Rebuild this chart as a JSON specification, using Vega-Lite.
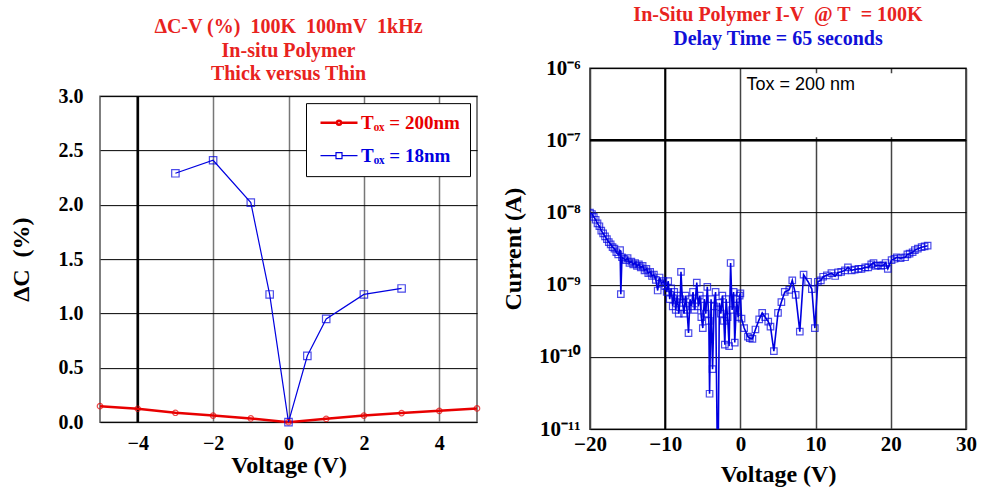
{
  "$schema": "https://vega.github.io/schema/vega-lite/v6.json",
  "padding": {"left": 8, "top": 4, "right": 0, "bottom": 0},
  "spacing": 17,
  "center": true,
  "resolve": {"scale": {"color": "independent"}, "legend": {"color": "independent"}},
  "config": {
    "font": "Liberation Serif",
    "axis": {"labelFont": "Liberation Serif", "titleFont": "Liberation Serif", "labelFontWeight": "bold", "titleFontWeight": "bold", "labelColor": "black", "titleColor": "black", "ticks": false, "domain": false, "labelFlush": false, "labelOverlap": false},
    "legend": {"labelFont": "Liberation Serif"}
  },
  "hconcat": [
    {
      "width": 377,
      "height": 326,
      "view": {"stroke": "#555", "strokeWidth": 1.5},
      "title": {"text": ["ΔC-V (%)\u00a0 100K\u00a0 100mV\u00a0 1kHz", "In-situ Polymer", "Thick versus Thin"], "color": "#e8231e", "font": "Liberation Serif", "fontSize": 20, "fontWeight": "bold", "lineHeight": 23.5, "offset": 2, "frame": "group", "anchor": "middle"},
      "data": {"values": [
        {"v": -5, "dc": 0.147, "s": "200nm"},
        {"v": -4, "dc": 0.123, "s": "200nm"},
        {"v": -3, "dc": 0.086, "s": "200nm"},
        {"v": -2, "dc": 0.060, "s": "200nm"},
        {"v": -1, "dc": 0.034, "s": "200nm"},
        {"v": 0, "dc": 0.0, "s": "200nm"},
        {"v": 1, "dc": 0.030, "s": "200nm"},
        {"v": 2, "dc": 0.060, "s": "200nm"},
        {"v": 3, "dc": 0.083, "s": "200nm"},
        {"v": 4, "dc": 0.104, "s": "200nm"},
        {"v": 5, "dc": 0.126, "s": "200nm"},
        {"v": -3, "dc": 2.29, "s": "18nm"},
        {"v": -2, "dc": 2.41, "s": "18nm"},
        {"v": -1, "dc": 2.02, "s": "18nm"},
        {"v": -0.5, "dc": 1.175, "s": "18nm"},
        {"v": 0, "dc": 0.0, "s": "18nm"},
        {"v": 0.5, "dc": 0.61, "s": "18nm"},
        {"v": 1, "dc": 0.95, "s": "18nm"},
        {"v": 2, "dc": 1.175, "s": "18nm"},
        {"v": 3, "dc": 1.23, "s": "18nm"}
      ]},
      "layer": [
        {
          "data": {"values": [{"x": -4}]},
          "mark": {"type": "rule", "color": "black", "strokeWidth": 2.5},
          "encoding": {"x": {"field": "x", "type": "quantitative"}}
        },
        {
          "mark": {"type": "line"},
          "encoding": {
            "x": {"field": "v", "type": "quantitative", "scale": {"domain": [-5, 5], "nice": false},
              "axis": {"values": [-4, -2, 0, 2, 4], "grid": true, "gridColor": "#777", "gridWidth": 1.5, "labelFontSize": 20, "labelPadding": 11, "title": "Voltage (V)", "titleFontSize": 24, "titlePadding": 0}},
            "y": {"field": "dc", "type": "quantitative", "scale": {"domain": [0, 3], "nice": false},
              "axis": {"values": [0, 0.5, 1, 1.5, 2, 2.5, 3], "format": ".1f", "grid": true, "gridColor": "black", "gridWidth": 1, "labelFontSize": 20, "labelPadding": 17, "title": "ΔC\u00a0 (%)", "titleFontSize": 24, "titlePadding": 25}},
            "color": {"field": "s", "type": "nominal", "scale": {"domain": ["200nm", "18nm"], "range": ["#e80000", "#0000e0"]},
              "legend": {"title": null, "orient": "top-right", "offset": 7, "fillColor": "white", "strokeColor": "black", "padding": 10, "labelFontSize": 19, "labelFontWeight": "bold",
                "labelColor": {"expr": "datum.value == '200nm' ? '#e80000' : '#0000e0'"},
                "labelExpr": "datum.value == '200nm' ? 'Tₒₓ = 200nm' : 'Tₒₓ = 18nm'",
                "labelOffset": 26, "symbolSize": 100, "rowPadding": 13,
                "symbolType": {"expr": "datum.value == '200nm' ? 'M-1,0H2.3M3.1,0H6.4M2.3,0A0.4,0.4 0 1,1 3.1,0A0.4,0.4 0 1,1 2.3,0' : 'M-1,0H2.1M3.3,0H6.4M2.1,-0.6H3.3V0.6H2.1Z'"},
                "symbolStrokeWidth": {"expr": "datum.value == '200nm' ? 2.5 : 1.2"},
                "encode": {"symbols": {"update": {
                  "shape": {"signal": "datum.value == '200nm' ? 'M-1,0H2.3M3.1,0H6.4M2.3,0A0.4,0.4 0 1,1 3.1,0A0.4,0.4 0 1,1 2.3,0' : 'M-1,0H2.1M3.3,0H6.4M2.1,-0.6H3.3V0.6H2.1Z'"},
                  "strokeWidth": {"signal": "datum.value == '200nm' ? 2.5 : 1.2"}}}}}},
            "strokeWidth": {"field": "s", "type": "nominal", "scale": {"domain": ["200nm", "18nm"], "range": [2.5, 1.2]}, "legend": null}
          }
        },
        {
          "mark": {"type": "point", "filled": false, "strokeWidth": 1.2},
          "encoding": {
            "x": {"field": "v", "type": "quantitative"},
            "y": {"field": "dc", "type": "quantitative"},
            "color": {"field": "s", "type": "nominal"},
            "shape": {"field": "s", "type": "nominal", "scale": {"domain": ["200nm", "18nm"], "range": ["circle", "square"]}, "legend": null},
            "size": {"field": "s", "type": "nominal", "scale": {"domain": ["200nm", "18nm"], "range": [30, 55]}, "legend": null}
          }
        }
      ]
    },
    {
      "width": 376,
      "height": 361,
      "view": {"stroke": "#222", "strokeWidth": 1.5},
      "title": {"text": "In-Situ Polymer I-V\u00a0 @ T\u00a0 = 100K", "subtitle": "Delay Time = 65 seconds", "color": "#e8231e", "subtitleColor": "#1010d8", "font": "Liberation Serif", "subtitleFont": "Liberation Serif", "fontSize": 20, "subtitleFontSize": 20, "fontWeight": "bold", "subtitleFontWeight": "bold", "subtitlePadding": 4, "offset": 8, "frame": "group", "anchor": "middle"},
      "data": {"values": [
        {"v": -20.0, "i": 1.0e-8}, {"v": -19.75, "i": 9.55e-9}, {"v": -19.5, "i": 8.71e-9}, {"v": -19.25, "i": 7.94e-9},
        {"v": -19.0, "i": 7.08e-9}, {"v": -18.75, "i": 6.46e-9}, {"v": -18.5, "i": 5.62e-9}, {"v": -18.25, "i": 5.13e-9},
        {"v": -18.0, "i": 4.68e-9}, {"v": -17.75, "i": 4.27e-9}, {"v": -17.5, "i": 3.89e-9}, {"v": -17.25, "i": 3.63e-9},
        {"v": -17.0, "i": 3.31e-9}, {"v": -16.75, "i": 3.16e-9}, {"v": -16.5, "i": 2.82e-9}, {"v": -16.25, "i": 2.63e-9},
        {"v": -16.0, "i": 3.02e-9}, {"v": -15.9, "i": 7.41e-10}, {"v": -15.75, "i": 2.40e-9}, {"v": -15.5, "i": 2.29e-9},
        {"v": -15.25, "i": 2.19e-9}, {"v": -15.0, "i": 2.34e-9}, {"v": -14.75, "i": 2.0e-9}, {"v": -14.5, "i": 2.09e-9},
        {"v": -14.25, "i": 1.91e-9}, {"v": -14.0, "i": 2.0e-9}, {"v": -13.75, "i": 1.82e-9}, {"v": -13.5, "i": 1.91e-9},
        {"v": -13.25, "i": 1.74e-9}, {"v": -13.0, "i": 1.82e-9}, {"v": -12.75, "i": 1.58e-9}, {"v": -12.5, "i": 1.66e-9},
        {"v": -12.25, "i": 1.45e-9}, {"v": -12.0, "i": 1.51e-9}, {"v": -11.75, "i": 1.32e-9}, {"v": -11.5, "i": 1.38e-9},
        {"v": -11.25, "i": 1.17e-9}, {"v": -11.0, "i": 8.32e-10}, {"v": -10.75, "i": 1.26e-9}, {"v": -10.5, "i": 1.05e-9},
        {"v": -10.25, "i": 1.12e-9}, {"v": -10.0, "i": 9.55e-10},
        {"v": -9.8, "i": 7.94e-10}, {"v": -9.6, "i": 1.12e-9}, {"v": -9.4, "i": 6.31e-10}, {"v": -9.2, "i": 8.91e-10},
        {"v": -9.0, "i": 5.01e-10}, {"v": -8.8, "i": 7.94e-10}, {"v": -8.6, "i": 4.47e-10}, {"v": -8.4, "i": 7.08e-10},
        {"v": -8.2, "i": 3.98e-10}, {"v": -8.0, "i": 6.31e-10}, {"v": -7.9, "i": 1.51e-9}, {"v": -7.7, "i": 5.62e-10},
        {"v": -7.5, "i": 3.98e-10}, {"v": -7.3, "i": 7.08e-10}, {"v": -7.1, "i": 4.47e-10}, {"v": -6.9, "i": 2.14e-10},
        {"v": -6.7, "i": 6.31e-10}, {"v": -6.5, "i": 5.01e-10}, {"v": -6.3, "i": 7.94e-10}, {"v": -6.1, "i": 4.47e-10},
        {"v": -5.8, "i": 1.07e-9}, {"v": -5.6, "i": 5.01e-10}, {"v": -5.4, "i": 7.08e-10}, {"v": -5.2, "i": 3.55e-10},
        {"v": -5.0, "i": 2.51e-10}, {"v": -4.8, "i": 6.31e-10}, {"v": -4.6, "i": 3.98e-10}, {"v": -4.4, "i": 9.33e-10},
        {"v": -4.2, "i": 3.16e-10}, {"v": -4.1, "i": 3.09e-11}, {"v": -3.9, "i": 6.31e-10}, {"v": -3.7, "i": 6.76e-11},
        {"v": -3.5, "i": 5.01e-10}, {"v": -3.3, "i": 7.94e-10}, {"v": -3.0, "i": 1.0e-12}, {"v": -2.8, "i": 5.62e-10},
        {"v": -2.6, "i": 3.98e-10}, {"v": -2.4, "i": 7.08e-10}, {"v": -2.2, "i": 3.16e-10}, {"v": -2.07, "i": 1.48e-10},
        {"v": -1.9, "i": 6.31e-10}, {"v": -1.7, "i": 3.55e-10}, {"v": -1.5, "i": 1.41e-10}, {"v": -1.3, "i": 2.0e-9},
        {"v": -1.1, "i": 4.47e-10}, {"v": -0.9, "i": 7.94e-10}, {"v": -0.75, "i": 1.58e-10}, {"v": -0.5, "i": 6.31e-10},
        {"v": -0.3, "i": 3.55e-10}, {"v": -0.1, "i": 7.08e-10}, {"v": 0.0, "i": 7.59e-10}, {"v": 0.15, "i": 3.39e-10},
        {"v": 0.5, "i": 2.51e-10}, {"v": 1.0, "i": 1.91e-10}, {"v": 1.25, "i": 1.82e-10}, {"v": 1.6, "i": 1.78e-10},
        {"v": 2.0, "i": 2.40e-10}, {"v": 2.5, "i": 3.31e-10}, {"v": 2.9, "i": 4.07e-10}, {"v": 3.3, "i": 3.55e-10},
        {"v": 3.7, "i": 3.09e-10}, {"v": 4.0, "i": 2.63e-10}, {"v": 4.45, "i": 1.20e-10}, {"v": 5.0, "i": 4.07e-10},
        {"v": 5.45, "i": 5.75e-10}, {"v": 5.9, "i": 7.94e-10}, {"v": 6.5, "i": 8.51e-10}, {"v": 6.9, "i": 1.15e-9},
        {"v": 7.35, "i": 7.24e-10}, {"v": 7.9, "i": 2.24e-10}, {"v": 8.4, "i": 1.38e-9}, {"v": 9.0, "i": 1.10e-9},
        {"v": 9.5, "i": 8.71e-10}, {"v": 9.9, "i": 2.51e-10}, {"v": 10.3, "i": 1.10e-9}, {"v": 10.7, "i": 1.15e-9},
        {"v": 11.0, "i": 1.29e-9}, {"v": 11.5, "i": 1.35e-9}, {"v": 12.1, "i": 1.45e-9}, {"v": 12.6, "i": 1.32e-9},
        {"v": 13.0, "i": 1.48e-9}, {"v": 13.4, "i": 1.51e-9}, {"v": 13.9, "i": 1.58e-9}, {"v": 14.3, "i": 1.74e-9},
        {"v": 14.8, "i": 1.58e-9}, {"v": 15.2, "i": 1.62e-9}, {"v": 15.7, "i": 1.66e-9}, {"v": 16.1, "i": 1.66e-9},
        {"v": 16.6, "i": 1.74e-9}, {"v": 17.0, "i": 1.74e-9}, {"v": 17.4, "i": 1.91e-9}, {"v": 17.7, "i": 2.0e-9},
        {"v": 18.0, "i": 1.82e-9}, {"v": 18.3, "i": 1.86e-9}, {"v": 18.7, "i": 1.82e-9}, {"v": 19.0, "i": 1.86e-9},
        {"v": 19.3, "i": 2.0e-9}, {"v": 19.6, "i": 1.66e-9}, {"v": 20.1, "i": 2.19e-9}, {"v": 20.5, "i": 2.29e-9},
        {"v": 20.8, "i": 2.40e-9}, {"v": 21.3, "i": 2.34e-9}, {"v": 21.9, "i": 2.40e-9}, {"v": 22.2, "i": 2.63e-9},
        {"v": 22.5, "i": 2.69e-9}, {"v": 22.9, "i": 2.82e-9}, {"v": 23.2, "i": 3.02e-9}, {"v": 23.6, "i": 3.16e-9},
        {"v": 24.1, "i": 3.31e-9}, {"v": 24.5, "i": 3.39e-9}, {"v": 24.9, "i": 3.47e-9}
      ]},
      "layer": [
        {
          "data": {"values": [{"x": 0.3, "x2": 29.8, "y": 1.1e-7, "y2": 8.5e-7}]},
          "mark": {"type": "rect", "color": "white"},
          "encoding": {
            "x": {"field": "x", "type": "quantitative"}, "x2": {"field": "x2"},
            "y": {"field": "y", "type": "quantitative"}, "y2": {"field": "y2"}
          }
        },
        {
          "data": {"values": [{"x": -10}]},
          "mark": {"type": "rule", "color": "black", "strokeWidth": 2},
          "encoding": {"x": {"field": "x", "type": "quantitative"}}
        },
        {
          "data": {"values": [{"y": 1e-7}]},
          "mark": {"type": "rule", "color": "black", "strokeWidth": 2.5},
          "encoding": {"y": {"field": "y", "type": "quantitative"}}
        },
        {
          "data": {"values": [{"x": 0.8, "y": 5.8e-7, "t": "Tox = 200 nm"}]},
          "mark": {"type": "text", "align": "left", "baseline": "middle", "font": "Liberation Sans", "fontSize": 18, "color": "black"},
          "encoding": {"x": {"field": "x", "type": "quantitative"}, "y": {"field": "y", "type": "quantitative"}, "text": {"field": "t"}}
        },
        {
          "mark": {"type": "line", "color": "#0000e0", "strokeWidth": 1.6, "clip": true},
          "encoding": {
            "x": {"field": "v", "type": "quantitative", "scale": {"domain": [-20, 30], "nice": false},
              "axis": {"values": [-20, -10, 0, 10, 20, 30], "grid": true, "gridColor": "#444", "gridWidth": 1.5, "labelFontSize": 21, "labelPadding": 4, "title": ["Voltage (V)", "\u00a0"], "titleLineHeight": 19, "titleFontSize": 24, "titlePadding": 8}},
            "y": {"field": "i", "type": "quantitative", "scale": {"type": "log", "domain": [1e-11, 1e-6], "nice": false},
              "axis": {"values": [1e-11, 1e-10, 1e-9, 1e-8, 1e-7, 1e-6], "grid": true, "gridColor": "black", "gridWidth": 1, "labelFontSize": 21, "labelPadding": 10,
                "labelExpr": "datum.value < 3e-11 ? '10⁻¹¹' : datum.value < 3e-10 ? '10⁻¹⁰' : datum.value < 3e-9 ? '10⁻⁹' : datum.value < 3e-8 ? '10⁻⁸' : datum.value < 3e-7 ? '10⁻⁷' : '10⁻⁶'",
                "title": "Current (A)", "titleFontSize": 24, "titlePadding": 13}}
          }
        },
        {
          "mark": {"type": "point", "shape": "square", "filled": false, "color": "#0000e0", "size": 42, "strokeWidth": 1.2, "clip": true},
          "encoding": {
            "x": {"field": "v", "type": "quantitative"},
            "y": {"field": "i", "type": "quantitative"}
          }
        }
      ]
    }
  ]
}
